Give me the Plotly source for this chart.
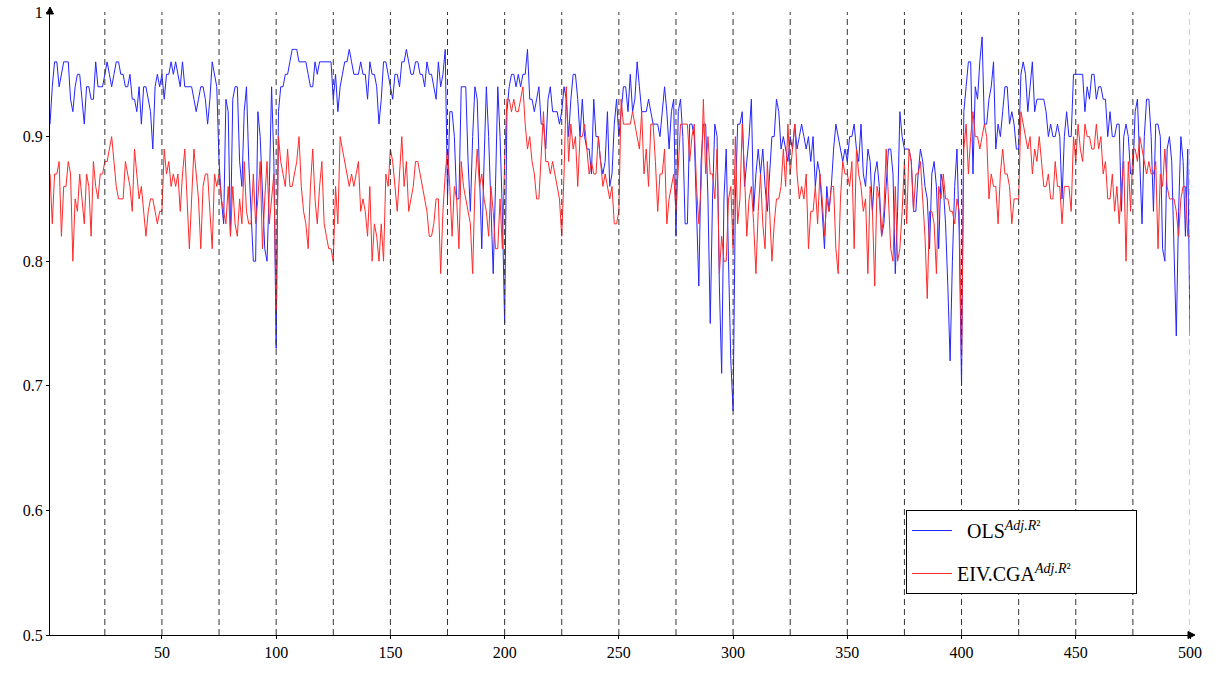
import plotly.graph_objects as go

x_vals = list(range(1, 501))

ols_adj_r2 = [
    # 1-25
    0.91,0.94,0.96,0.96,0.94,0.95,0.96,0.96,0.96,0.93,0.92,0.94,0.95,0.95,0.93,0.91,0.94,0.94,0.93,0.93,0.96,0.94,0.94,0.94,0.95,
    # 26-50
    0.96,0.95,0.94,0.95,0.96,0.96,0.95,0.95,0.94,0.94,0.95,0.93,0.93,0.92,0.94,0.91,0.94,0.94,0.93,0.92,0.89,0.94,0.95,0.94,0.95,
    # 51-75
    0.93,0.95,0.95,0.96,0.95,0.96,0.95,0.94,0.96,0.94,0.94,0.94,0.94,0.93,0.92,0.93,0.94,0.94,0.93,0.91,0.93,0.96,0.95,0.94,0.88,
    # 76-100
    0.85,0.83,0.93,0.92,0.82,0.93,0.94,0.94,0.88,0.86,0.92,0.94,0.88,0.84,0.80,0.80,0.92,0.90,0.86,0.81,0.80,0.86,0.94,0.88,0.73,
    # 101-125
    0.92,0.94,0.94,0.95,0.95,0.96,0.97,0.97,0.97,0.96,0.96,0.96,0.96,0.95,0.94,0.94,0.96,0.95,0.96,0.96,0.96,0.96,0.96,0.96,0.93,
    # 126-150
    0.95,0.92,0.94,0.95,0.96,0.96,0.97,0.96,0.95,0.95,0.95,0.96,0.95,0.95,0.93,0.96,0.95,0.95,0.94,0.91,0.93,0.96,0.96,0.95,0.94,
    # 151-175
    0.93,0.95,0.95,0.94,0.96,0.96,0.97,0.96,0.95,0.95,0.96,0.96,0.95,0.95,0.94,0.96,0.95,0.95,0.94,0.93,0.96,0.94,0.95,0.97,0.85,
    # 176-200
    0.92,0.92,0.90,0.85,0.85,0.94,0.94,0.94,0.88,0.84,0.90,0.94,0.93,0.87,0.81,0.88,0.94,0.90,0.84,0.79,0.86,0.94,0.90,0.84,0.75,
    # 201-225
    0.92,0.94,0.95,0.95,0.94,0.95,0.94,0.95,0.95,0.97,0.93,0.93,0.92,0.93,0.94,0.91,0.91,0.89,0.93,0.94,0.92,0.92,0.92,0.91,0.92,
    # 226-250
    0.94,0.93,0.90,0.93,0.95,0.95,0.93,0.90,0.93,0.90,0.89,0.89,0.87,0.93,0.90,0.90,0.88,0.87,0.88,0.92,0.86,0.87,0.91,0.93,0.90,
    # 251-275
    0.92,0.94,0.94,0.92,0.95,0.92,0.93,0.96,0.94,0.92,0.92,0.92,0.93,0.92,0.91,0.91,0.91,0.90,0.92,0.94,0.92,0.89,0.92,0.93,0.82,
    # 276-300
    0.92,0.93,0.90,0.83,0.83,0.91,0.91,0.90,0.84,0.78,0.88,0.91,0.91,0.85,0.75,0.85,0.91,0.90,0.78,0.71,0.85,0.89,0.80,0.72,0.68,
    # 301-325
    0.85,0.91,0.91,0.92,0.86,0.88,0.90,0.93,0.84,0.87,0.89,0.87,0.89,0.86,0.84,0.87,0.90,0.90,0.93,0.92,0.89,0.90,0.89,0.88,0.90,
    # 326-350
    0.89,0.91,0.89,0.90,0.91,0.90,0.89,0.90,0.88,0.90,0.86,0.88,0.87,0.84,0.81,0.86,0.84,0.86,0.89,0.91,0.90,0.89,0.88,0.89,0.88,
    # 351-375
    0.90,0.90,0.91,0.89,0.88,0.91,0.87,0.86,0.89,0.88,0.84,0.87,0.88,0.86,0.82,0.83,0.86,0.89,0.89,0.87,0.79,0.84,0.92,0.90,0.89,
    # 376-400
    0.89,0.89,0.88,0.84,0.84,0.87,0.89,0.88,0.86,0.85,0.81,0.87,0.88,0.86,0.81,0.87,0.86,0.83,0.78,0.72,0.80,0.86,0.89,0.82,0.70,
    # 401-425
    0.92,0.94,0.96,0.96,0.87,0.94,0.93,0.96,0.98,0.91,0.91,0.93,0.94,0.96,0.89,0.91,0.90,0.92,0.94,0.94,0.91,0.92,0.91,0.89,0.89,
    # 426-450
    0.95,0.96,0.95,0.92,0.94,0.96,0.92,0.93,0.93,0.93,0.93,0.92,0.90,0.91,0.90,0.90,0.91,0.90,0.85,0.90,0.92,0.90,0.90,0.95,0.95,
    # 451-475
    0.95,0.95,0.95,0.92,0.94,0.93,0.95,0.95,0.93,0.94,0.94,0.93,0.93,0.90,0.92,0.90,0.90,0.91,0.91,0.84,0.90,0.91,0.90,0.87,0.87,
    # 476-500
    0.92,0.93,0.88,0.83,0.90,0.93,0.93,0.90,0.84,0.91,0.91,0.90,0.81,0.80,0.89,0.90,0.88,0.80,0.74,0.84,0.90,0.88,0.82,0.89,0.74,
]

eiv_cga_adj_r2 = [
    # 1-25
    0.87,0.83,0.87,0.87,0.88,0.82,0.86,0.86,0.88,0.87,0.80,0.85,0.84,0.87,0.85,0.83,0.87,0.86,0.82,0.88,0.86,0.85,0.87,0.87,0.88,
    # 26-50
    0.88,0.89,0.90,0.88,0.86,0.85,0.85,0.85,0.88,0.87,0.86,0.84,0.89,0.87,0.85,0.86,0.84,0.82,0.84,0.85,0.85,0.84,0.83,0.84,0.84,
    # 51-75
    0.89,0.87,0.88,0.86,0.87,0.86,0.87,0.84,0.87,0.89,0.85,0.81,0.85,0.89,0.87,0.85,0.81,0.86,0.87,0.87,0.84,0.81,0.87,0.86,0.87,
    # 76-100
    0.85,0.84,0.83,0.86,0.82,0.86,0.83,0.82,0.85,0.83,0.88,0.84,0.83,0.83,0.87,0.83,0.85,0.88,0.81,0.85,0.88,0.83,0.85,0.87,0.76,
    # 101-125
    0.90,0.88,0.87,0.86,0.89,0.86,0.86,0.87,0.88,0.90,0.86,0.84,0.83,0.81,0.86,0.89,0.85,0.83,0.86,0.88,0.83,0.82,0.81,0.81,0.80,
    # 126-150
    0.86,0.83,0.90,0.89,0.88,0.87,0.86,0.87,0.86,0.87,0.88,0.84,0.85,0.84,0.82,0.86,0.80,0.83,0.82,0.80,0.83,0.80,0.87,0.86,0.89,
    # 151-175
    0.88,0.86,0.84,0.87,0.90,0.86,0.88,0.84,0.85,0.86,0.88,0.88,0.87,0.86,0.85,0.84,0.82,0.82,0.83,0.85,0.85,0.79,0.84,0.87,0.89,
    # 176-200
    0.86,0.82,0.86,0.85,0.81,0.88,0.86,0.85,0.84,0.83,0.79,0.86,0.89,0.86,0.87,0.85,0.84,0.82,0.86,0.84,0.81,0.81,0.85,0.81,0.88,
    # 201-225
    0.93,0.93,0.92,0.93,0.92,0.92,0.93,0.94,0.91,0.89,0.90,0.88,0.87,0.85,0.85,0.88,0.92,0.88,0.88,0.87,0.88,0.87,0.86,0.85,0.82,
    # 226-250
    0.87,0.94,0.88,0.91,0.89,0.90,0.86,0.90,0.90,0.91,0.89,0.87,0.88,0.87,0.87,0.90,0.88,0.86,0.87,0.86,0.85,0.86,0.83,0.83,0.84,
    # 251-275
    0.93,0.91,0.91,0.91,0.91,0.92,0.91,0.90,0.89,0.92,0.87,0.89,0.86,0.91,0.91,0.88,0.84,0.87,0.87,0.89,0.83,0.85,0.86,0.87,0.84,
    # 276-300
    0.88,0.91,0.91,0.91,0.91,0.88,0.90,0.91,0.86,0.83,0.86,0.93,0.87,0.90,0.87,0.87,0.85,0.89,0.79,0.82,0.80,0.80,0.85,0.86,0.81,
    # 301-325
    0.90,0.83,0.85,0.91,0.87,0.82,0.85,0.86,0.83,0.79,0.84,0.87,0.83,0.81,0.88,0.84,0.80,0.83,0.85,0.85,0.86,0.89,0.86,0.91,0.87,
    # 326-350
    0.89,0.91,0.87,0.85,0.86,0.85,0.87,0.81,0.84,0.84,0.86,0.83,0.87,0.85,0.82,0.85,0.84,0.86,0.86,0.81,0.79,0.85,0.88,0.87,0.87,
    # 351-375
    0.86,0.88,0.81,0.89,0.87,0.86,0.84,0.85,0.79,0.86,0.84,0.78,0.86,0.85,0.82,0.84,0.89,0.85,0.81,0.80,0.86,0.80,0.81,0.84,0.88,
    # 376-400
    0.83,0.89,0.88,0.84,0.87,0.87,0.88,0.85,0.82,0.77,0.84,0.84,0.83,0.79,0.86,0.85,0.87,0.85,0.85,0.84,0.84,0.83,0.85,0.84,0.72,
    # 401-425
    0.89,0.91,0.87,0.90,0.92,0.90,0.90,0.89,0.90,0.91,0.90,0.85,0.87,0.86,0.86,0.83,0.87,0.89,0.87,0.87,0.86,0.83,0.85,0.85,0.85,
    # 426-450
    0.92,0.91,0.90,0.89,0.90,0.87,0.89,0.88,0.90,0.88,0.86,0.86,0.87,0.85,0.85,0.88,0.86,0.86,0.83,0.86,0.86,0.86,0.84,0.90,0.88,
    # 451-475
    0.91,0.89,0.88,0.91,0.90,0.90,0.89,0.89,0.91,0.89,0.90,0.87,0.88,0.85,0.85,0.87,0.84,0.86,0.83,0.86,0.88,0.80,0.88,0.84,0.89,
    # 476-500
    0.89,0.88,0.90,0.89,0.88,0.87,0.88,0.87,0.87,0.88,0.81,0.87,0.86,0.89,0.86,0.85,0.85,0.85,0.84,0.82,0.85,0.86,0.86,0.82,0.82,
]

x_tick_vals = [50, 100, 150, 200, 250, 300, 350, 400, 450, 500]
y_tick_vals = [0.5, 0.6, 0.7, 0.8, 0.9, 1.0]
y_tick_text = ["0.5", "0.6", "0.7", "0.8", "0.9", "1"]
divider_positions = list(range(25, 501, 25))

sup_txt = "<sup><i>Adj.R</i>²</sup>"
names = ["\u00a0\u00a0OLS" + sup_txt,
         "EIV.CGA" + sup_txt + "\u00a0" * 12]

n = min(len(x_vals), len(ols_adj_r2), len(eiv_cga_adj_r2))

font_family = "Liberation Serif, DejaVu Serif, serif"

W, H = 1219, 673
ML, MR, MT, MB = 50, 29, 12, 38
PW, PH = W - ML - MR, H - MT - MB

fig = go.Figure()
fig.add_trace(go.Scatter(x=x_vals[:n], y=ols_adj_r2[:n], mode="lines",
                         line=dict(color="#2424ff", width=1), name=names[0],
                         legendgroup="a"))
fig.add_trace(go.Scatter(x=x_vals[:n], y=eiv_cga_adj_r2[:n], mode="lines",
                         line=dict(color="#ff2a2a", width=1), name=names[1],
                         legendgroup="b"))

for xp in divider_positions:
    fig.add_shape(type="line", xref="x", yref="paper", x0=xp, x1=xp, y0=0, y1=1,
                  line=dict(color="#333333" if xp < 500 else "#a0a0a0", width=1, dash="6px,4px"),
                  layer="above")

# axis arrowheads (small triangles in pixel units converted to paper units)
px_x = 1.0 / PW
px_y = 1.0 / PH
top_arrow = "M {} {} L {} {} L {} {} Z".format(
    0, 1 + 5 * px_y, -3.5 * px_x, 1 - 2 * px_y, 3.5 * px_x, 1 - 2 * px_y)
right_arrow = "M {} {} L {} {} L {} {} Z".format(
    1 + 5 * px_x, 0, 1 - 2 * px_x, 3.5 * px_y, 1 - 2 * px_x, -3.5 * px_y)
for p in (top_arrow, right_arrow):
    fig.add_shape(type="path", xref="paper", yref="paper", path=p,
                  fillcolor="black", line=dict(color="black", width=1), layer="above")

fig.update_layout(
    width=W, height=H,
    margin=dict(l=ML, r=MR, t=MT, b=MB, autoexpand=False),
    paper_bgcolor="white", plot_bgcolor="white",
    font=dict(family=font_family, size=16, color="black"),
    showlegend=True,
    legend=dict(x=(906 - ML) / PW, y=(635 - 510) / PH, xanchor="left", yanchor="top",
                bordercolor="black", borderwidth=1, bgcolor="white",
                font=dict(family=font_family, size=20, color="black"),
                itemwidth=40, traceorder="grouped", tracegroupgap=14),
    xaxis=dict(range=[1, 500], tickvals=x_tick_vals, showgrid=False, zeroline=False,
               showline=True, linecolor="black", linewidth=1, automargin=False,
               ticks="outside", ticklen=3, tickcolor="black",
               tickfont=dict(family=font_family, size=16)),
    yaxis=dict(range=[0.5, 1.0], tickvals=y_tick_vals, ticktext=y_tick_text,
               showgrid=False, zeroline=False, automargin=False,
               showline=True, linecolor="black", linewidth=1,
               ticks="outside", ticklen=3, tickcolor="black",
               tickfont=dict(family=font_family, size=16)),
)

fig.write_html("out.html", config={"displayModeBar": False},
               post_script="document.body.style.margin='0';")
